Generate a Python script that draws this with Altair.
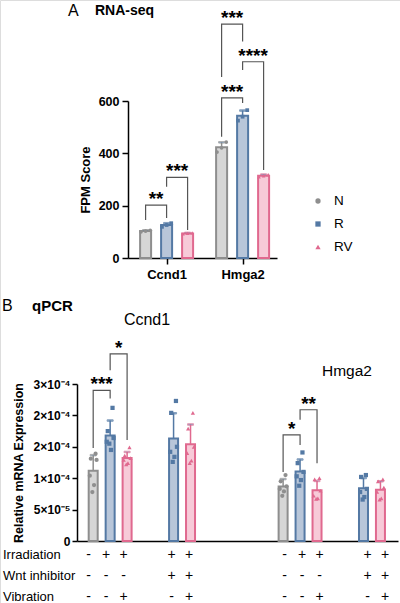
import altair as alt
import pandas as pd

# ---------------- data ----------------
groups = ["N", "R", "RV"]

# Panel A: RNA-seq FPM replicates
rna_genes = ["Ccnd1", "Hmga2"]
rna_ccnd1_N = [100, 103, 106]
rna_ccnd1_R = [119, 126, 133]
rna_ccnd1_RV = [92, 94, 96]
rna_hmga2_N = [405, 421, 443]
rna_hmga2_R = [525, 540, 565]
rna_hmga2_RV = [310, 314, 319]

# Panel A significance brackets: gene, left group, right group, left leg end, right leg end, top, label
rna_brackets = [
    ["Ccnd1", "N", "R", 145, 153, 202, "**"],
    ["Ccnd1", "R", "RV", 272, 107, 308, "***"],
    ["Hmga2", "N", "R", 463, 592, 612, "***"],
    ["Hmga2", "R", "RV", 718, 336, 750, "****"],
    ["Hmga2", "N", "R", 692, 827, 894, "***"],
]

# Panel B: qPCR relative mRNA expression replicates (units of 1e-5)
q_genes = ["Ccnd1", "Hmga2"]
q_conditions = ["N", "R", "RV", "R+Wnt", "RV+Wnt"]
q_condition_group = ["N", "R", "RV", "R", "RV"]
irradiation = ["-", "+", "+", "+", "+"]
wnt_inhibitor = ["-", "-", "-", "+", "+"]
vibration = ["-", "-", "+", "-", "+"]
table_rows = ["Irradiation", "Wnt inhibitor", "Vibration"]

q_ccnd1 = [
    [13.9, 13.1, 12.9, 10.4, 8.9, 7.8],
    [21.2, 17.5, 16.4, 15.8, 14.5, 15.5],
    [14.9, 13.6, 13.2, 12.9, 12.4, 12.2],
    [22.3, 20.4, 15.0, 14.2, 13.4, 12.6],
    [20.4, 17.9, 15.0, 14.0, 12.8, 12.4],
]
q_hmga2 = [
    [10.5, 9.5, 8.7, 8.3, 7.9, 7.2],
    [14.1, 12.4, 11.0, 10.3, 9.7, 8.8],
    [10.0, 9.8, 8.0, 7.2, 6.8, 6.7],
    [10.5, 10.2, 8.3, 7.8, 7.0, 6.6],
    [9.8, 9.5, 8.5, 7.8, 6.8, 6.6],
]
q_ticks = [0, 5, 10, 15, 20, 25]
q_tick_labels = ["0", "5×10⁻⁵", "1×10⁻⁴", "2×10⁻⁴", "2×10⁻⁴", "3×10⁻⁴"]

# Panel B brackets: gene, left cond, right cond, left leg end, right leg end, top, label
q_brackets = [
    ["Ccnd1", "N", "R", 14.8, 22.7, 24.0, "***"],
    ["Ccnd1", "R", "RV", 27.2, 16.1, 29.8, "*"],
    ["Hmga2", "N", "R", 11.0, 15.3, 16.9, "*"],
    ["Hmga2", "R", "RV", 19.3, 12.4, 20.9, "**"],
]

# ---------------- layout constants ----------------
FONT = "Liberation Sans"
fill_cols = ["#d6d6d6", "#b8c6d9", "#f7cad8"]
stroke_cols = ["#8e8e8e", "#5479a4", "#e0698f"]
point_cols = ["#8e8e8e", "#5479a4", "#e0698f"]
shapes = ["circle", "square", "triangle-up"]

a_gene_start = [0.6, 4.22]
a_jitter = [-0.22, 0.0, 0.22]
b_cluster_start = {"Ccnd1": [0.66, 5.4], "Hmga2": [11.86, 16.6]}
b_jitter = [0.14, -0.14, 0.2, -0.2, 0.05, -0.05]

fill_scale = alt.Scale(domain=groups, range=fill_cols)
stroke_scale = alt.Scale(domain=groups, range=stroke_cols)
color_scale = alt.Scale(domain=groups, range=point_cols)
shape_scale = alt.Scale(domain=groups, range=shapes)

# ---------------- build tables ----------------
rna_reps = {
    "Ccnd1": [rna_ccnd1_N, rna_ccnd1_R, rna_ccnd1_RV],
    "Hmga2": [rna_hmga2_N, rna_hmga2_R, rna_hmga2_RV],
}


def apos(gene, group):
    return a_gene_start[rna_genes.index(gene)] + groups.index(group)


a_bar_rows, a_pt_rows = [], []
for gene in rna_genes:
    for gi, g in enumerate(groups):
        s = pd.Series(rna_reps[gene][gi])
        p = apos(gene, g)
        a_bar_rows.append({"gene": gene, "group": g, "pos": p, "mean": s.mean(), "top": s.mean() + s.std()})
        for j, v in enumerate(rna_reps[gene][gi]):
            a_pt_rows.append({"group": g, "pos": p + a_jitter[j], "mean": v})
a_bars = pd.DataFrame(a_bar_rows)
a_pts = pd.DataFrame(a_pt_rows)

a_line_rows, a_star_rows = [], []
for bi, (gene, g1, g2, l1, l2, top, lab) in enumerate(rna_brackets):
    x1, x2 = apos(gene, g1), apos(gene, g2)
    for o, (xx, yy) in enumerate([(x1, l1), (x1, top), (x2, top), (x2, l2)]):
        a_line_rows.append({"id": bi, "o": o, "pos": xx, "mean": yy})
    a_star_rows.append({"pos": (x1 + x2) / 2, "mean": top, "label": lab})
a_lines = pd.DataFrame(a_line_rows)
a_stars = pd.DataFrame(a_star_rows)

q_reps = {"Ccnd1": q_ccnd1, "Hmga2": q_hmga2}


def bpos(gene, cond):
    ci = q_conditions.index(cond)
    cluster = 0 if ci < 3 else 1
    k = ci if ci < 3 else ci - 3
    return b_cluster_start[gene][cluster] + k


b_bar_rows, b_pt_rows, tab_rows = [], [], []
for gene in q_genes:
    for ci, c in enumerate(q_conditions):
        vals = q_reps[gene][ci]
        s = pd.Series(vals)
        p = bpos(gene, c)
        grp = q_condition_group[ci]
        b_bar_rows.append({"group": grp, "pos": p, "mean": s.mean(), "top": s.mean() + s.std()})
        for j, v in enumerate(vals):
            b_pt_rows.append({"group": grp, "pos": p + b_jitter[j], "mean": v})
        for ri, col in enumerate([irradiation, wnt_inhibitor, vibration]):
            tab_rows.append({"pos": p, "row": ri, "sign": col[ci]})
b_bars = pd.DataFrame(b_bar_rows)
b_pts = pd.DataFrame(b_pt_rows)
tab = pd.DataFrame(tab_rows)
row_labels = pd.DataFrame({"row": [0, 1, 2], "label": table_rows})

b_line_rows, b_star_rows = [], []
for bi, (gene, c1, c2, l1, l2, top, lab) in enumerate(q_brackets):
    x1, x2 = bpos(gene, c1), bpos(gene, c2)
    for o, (xx, yy) in enumerate([(x1, l1), (x1, top), (x2, top), (x2, l2)]):
        b_line_rows.append({"id": bi, "o": o, "pos": xx, "mean": yy})
    b_star_rows.append({"pos": (x1 + x2) / 2, "mean": top, "label": lab})
b_lines = pd.DataFrame(b_line_rows)
b_stars = pd.DataFrame(b_star_rows)

legend_df = pd.DataFrame({"group": groups, "idx": list(range(len(groups)))})

# ---------------- scales ----------------
xA = alt.Scale(domain=[0, 6.62], range=[128, 277], nice=False, zero=False)
yA = alt.Scale(domain=[0, 600], range=[258, 101], nice=False)
xB = alt.Scale(domain=[0, 18.34], range=[77, 398], nice=False, zero=False)
yB = alt.Scale(domain=[0, 25], range=[541, 384], nice=False)
yT = alt.Scale(domain=[0, 2], range=[555, 597], nice=False)
yL = alt.Scale(domain=[0, 2], range=[201, 247], nice=False)

axis_common = dict(grid=False, domainColor="black", domainWidth=1.5, tickColor="black",
                   tickWidth=1.5, labelColor="black", labelFont=FONT, titleFont=FONT,
                   titleColor="black", labelFontWeight="bold", titleFontWeight="bold")

axA_x = alt.Axis(orient="bottom", offset=-345, values=[1.6, 5.22],
                 labelExpr="datum.value < 3 ? 'Ccnd1' : 'Hmga2'", tickSize=6,
                 labelFontSize=13, labelPadding=4, title=None, **axis_common)
axA_y = alt.Axis(orient="left", offset=-128, values=[0, 200, 400, 600], tickSize=6,
                 labelFontSize=12.5, labelPadding=3, title="FPM Score", titleFontSize=13,
                 titlePadding=6, **axis_common)
label_map = "{" + ",".join(f"'{v}':'{l}'" for v, l in zip(q_ticks, q_tick_labels)) + "}"
axB_y = alt.Axis(orient="left", offset=-77, values=q_ticks, tickSize=5,
                 labelExpr=f"{label_map}[datum.value]", labelFontSize=12, labelPadding=2,
                 title="Relative mRNA Expression", titleFontSize=12.5, titlePadding=8,
                 **axis_common)
axB_x = alt.Axis(orient="bottom", offset=-62, labels=False, ticks=False, title=None,
                 **axis_common)


def XA():
    return alt.X("pos:Q", scale=xA, axis=axA_x)


def YA(field="mean"):
    return alt.Y(f"{field}:Q", scale=yA, axis=axA_y)


def XB():
    return alt.X("pos:Q", scale=xB, axis=axB_x)


def YB(field="mean"):
    return alt.Y(f"{field}:Q", scale=yB, axis=axB_y)


def FILL():
    return alt.Fill("group:N", scale=fill_scale, legend=None)


def STROKE():
    return alt.Stroke("group:N", scale=stroke_scale, legend=None)


def COLOR():
    return alt.Color("group:N", scale=color_scale, legend=None)


def SHAPE():
    return alt.Shape("group:N", scale=shape_scale, legend=None)


# ---------------- panel A ----------------
A_bars = alt.Chart(a_bars).mark_bar(size=11, strokeWidth=2).encode(
    x=XA(), y=YA(), fill=FILL(), stroke=STROKE())
A_err = alt.Chart(a_bars).mark_rule(strokeWidth=1.5).encode(
    x=XA(), y=YA(), y2="top:Q", stroke=STROKE())
A_cap = alt.Chart(a_bars).mark_tick(orient="horizontal", size=6, thickness=1.5).encode(
    x=XA(), y=YA("top"), stroke=STROKE())
A_pts = alt.Chart(a_pts).mark_point(filled=True, size=14, opacity=1).encode(
    x=XA(), y=YA(), color=COLOR(), shape=SHAPE())
A_br = alt.Chart(a_lines).mark_line(color="#555555", strokeWidth=1.2).encode(
    x=XA(), y=YA(), detail="id:N", order="o:Q")
A_st = alt.Chart(a_stars).mark_text(font=FONT, fontSize=19, fontWeight="bold", color="black",
                                    baseline="alphabetic", dy=0).encode(
    x=XA(), y=YA(), text="label:N")
panelA = alt.layer(A_bars, A_err, A_cap, A_pts, A_br, A_st)

# legend for panel A (drawn from the shared colour / shape scales)
L_sym = alt.Chart(legend_df).mark_point(filled=True, size=28, opacity=1).encode(
    x=alt.value(318),
    y=alt.Y("idx:Q", scale=yL, axis=None),
    color=COLOR(), shape=SHAPE())
L_txt = alt.Chart(legend_df).mark_text(font=FONT, fontSize=13.5, color="black", align="left",
                                       baseline="middle").encode(
    x=alt.value(334),
    y=alt.Y("idx:Q", scale=yL, axis=None),
    text="group:N")
legendA = alt.layer(L_sym, L_txt)

# ---------------- panel B ----------------
B_bars = alt.Chart(b_bars).mark_bar(size=9, strokeWidth=2).encode(
    x=XB(), y=YB(), fill=FILL(), stroke=STROKE())
B_err = alt.Chart(b_bars).mark_rule(strokeWidth=1.5).encode(
    x=XB(), y=YB(), y2="top:Q", stroke=STROKE())
B_cap = alt.Chart(b_bars).mark_tick(orient="horizontal", size=6, thickness=1.5).encode(
    x=XB(), y=YB("top"), stroke=STROKE())
B_pts = alt.Chart(b_pts).mark_point(filled=True, size=18, opacity=1).encode(
    x=XB(), y=YB(), color=COLOR(), shape=SHAPE())
B_br = alt.Chart(b_lines).mark_line(color="#555555", strokeWidth=1.2).encode(
    x=XB(), y=YB(), detail="id:N", order="o:Q")
B_st = alt.Chart(b_stars).mark_text(font=FONT, fontSize=19, fontWeight="bold", color="black",
                                    baseline="alphabetic", dy=0).encode(
    x=XB(), y=YB(), text="label:N")
panelB = alt.layer(B_bars, B_err, B_cap, B_pts, B_br, B_st)

# ---------------- table under panel B ----------------
T_signs = alt.Chart(tab).mark_text(font=FONT, fontSize=14, color="black").encode(
    x=alt.X("pos:Q", scale=xB, axis=None),
    y=alt.Y("row:Q", scale=yT, axis=None),
    text="sign:N",
)
T_rows = alt.Chart(row_labels).mark_text(font=FONT, fontSize=13, color="black", align="left").encode(
    x=alt.value(3),
    y=alt.Y("row:Q", scale=yT, axis=None),
    text="label:N",
)
table = alt.layer(T_signs, T_rows)


# ---------------- titles ----------------
def label(txt, x, y, size, weight="normal", align="left"):
    return alt.Chart(pd.DataFrame({"t": [txt]})).mark_text(
        font=FONT, fontSize=size, fontWeight=weight, color="black", align=align, baseline="middle"
    ).encode(x=alt.value(x), y=alt.value(y), text="t:N")


titles = alt.layer(
    label("A", 68, 11, 16),
    label("RNA-seq", 95, 11, 14, "bold"),
    label("B", 2, 306, 16),
    label("qPCR", 32, 306, 15, "bold"),
    label("Ccnd1", 147, 320, 16, align="center"),
    label("Hmga2", 347, 371, 15.5, align="center"),
)

chart = alt.layer(panelA, legendA, panelB, table, titles).resolve_scale(
    x="independent", y="independent"
).properties(
    width=400, height=603, autosize=alt.AutoSizeParams(type="none"), padding=0
).configure_view(strokeWidth=0).configure(font=FONT)

chart.save("out.html", embed_options={"renderer": "svg", "actions": False})
